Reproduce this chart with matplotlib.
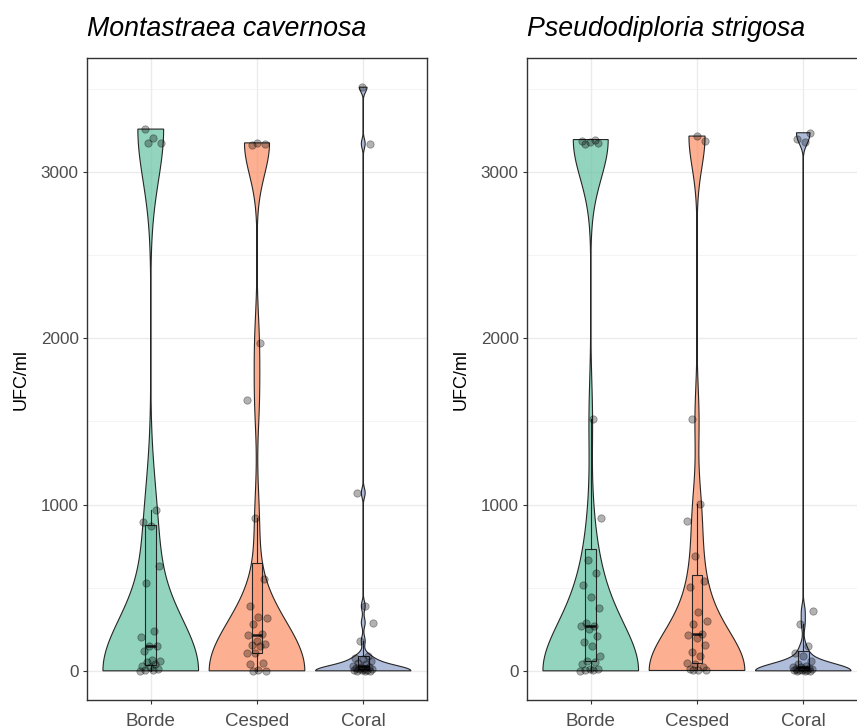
import numpy as np
import matplotlib
matplotlib.use('Agg')
import matplotlib.pyplot as plt
from matplotlib.ticker import FixedLocator

plt.rcParams['font.family'] = ['Liberation Sans', 'DejaVu Sans']

# values (UFC/ml)
categories = ['Borde', 'Cesped', 'Coral']
colors = ['#66C2A5', '#FC8D62', '#8DA0CB']

# Montastraea cavernosa
mc_borde = [0, 2, 5, 12, 20, 28, 40, 52, 60, 68, 118, 148, 152, 202, 242, 528, 628, 872,
            898, 968, 3172, 3176, 3202, 3258]
mc_cesped = [0, 0, 5, 40, 50, 105, 110, 150, 155, 160, 180, 215, 220, 280, 320, 325, 390, 555,
             920, 1630, 1970, 3160, 3170, 3175]
mc_coral = [0, 0, 0, 2, 5, 5, 8, 10, 12, 15, 20, 25, 30, 40, 50, 60, 70, 80, 90,
            180, 290, 390, 1070, 3170, 3510]

# Pseudodiploria strigosa
ps_borde = [0, 2, 2, 8, 12, 40, 52, 60, 92, 148, 172, 212, 250, 272, 272, 290, 378, 442, 518,
            586, 666, 922, 1512, 3170, 3175, 3180, 3185, 3195]
ps_cesped = [2, 2, 2, 12, 22, 42, 50, 92, 112, 156, 198, 218, 224, 282, 298, 352, 506, 540,
             692, 902, 1002, 1512, 3188, 3216]
ps_coral = [0, 0, 0, 2, 2, 5, 5, 8, 10, 12, 15, 20, 25, 30, 40, 60, 92, 110, 148,
            282, 362, 3182, 3196, 3236]

panels = [
    ('Montastraea cavernosa', [mc_borde, mc_cesped, mc_coral]),
    ('Pseudodiploria strigosa', [ps_borde, ps_cesped, ps_coral]),
]


def bw_nrd0(x):
    # same rule as R's density() default
    x = np.asarray(x, float)
    hi = np.std(x, ddof=1)
    q75, q25 = np.percentile(x, [75, 25])
    lo = min(hi, (q75 - q25) / 1.34)
    if lo == 0:
        lo = hi if hi else 1.0
    return 0.9 * lo * len(x) ** -0.2


def kde(x, grid):
    # gaussian kde, reflected at both ends of the data range
    x = np.asarray(x, float)
    bw = bw_nrd0(x)
    pts = np.concatenate([x, 2 * x.min() - x, 2 * x.max() - x])
    z = (grid[:, None] - pts[None, :]) / bw
    return np.exp(-0.5 * z ** 2).sum(axis=1)


def draw_panel(ax, title, groups):
    for i, (vals, col) in enumerate(zip(groups, colors)):
        pos = i + 1
        vals = np.asarray(vals, float)
        ys = np.linspace(vals.min(), vals.max(), 512)
        dens = kde(vals, ys)
        w = dens / dens.max() * 0.45
        xs = np.concatenate([pos + w, (pos - w)[::-1]])
        yy = np.concatenate([ys, ys[::-1]])
        ax.fill(xs, yy, facecolor=col, alpha=0.7, edgecolor='none', zorder=2)
        ax.fill(xs, yy, facecolor='none', edgecolor='#262626', lw=0.8, zorder=2.1)

        bp = ax.boxplot([vals], positions=[pos], widths=0.1, patch_artist=True,
                        showcaps=False, showfliers=False, whis=1.5, zorder=3)
        for b in bp['boxes']:
            b.set_facecolor(matplotlib.colors.to_rgba(col, 0.5))
            b.set_edgecolor('#262626')
            b.set_linewidth(0.8)
        for wl in bp['whiskers']:
            wl.set_color('#262626')
            wl.set_linewidth(0.8)
        for m in bp['medians']:
            m.set_color('#1a1a1a')
            m.set_linewidth(1.8)

        # horizontal jitter of the points (golden ratio sequence)
        k = np.arange(len(vals))
        jit = ((k * 0.618034 + 0.3 * i) % 1.0 - 0.5) * 0.2
        ax.scatter(pos + jit, vals, s=28, facecolor=(0, 0, 0, 0.3),
                   edgecolor=(0, 0, 0, 0.35), linewidth=0.6, zorder=4)

    ax.set_xlim(0.4, 3.6)
    ax.set_ylim(-175.5, 3685.5)
    ax.set_xticks([1, 2, 3])
    ax.set_xticklabels(categories)
    ax.set_yticks([0, 1000, 2000, 3000])
    ax.yaxis.set_minor_locator(FixedLocator([500, 1500, 2500, 3500]))
    ax.grid(True, which='major', color='#EBEBEB', lw=1.0, zorder=0)
    ax.grid(True, which='minor', axis='y', color='#F2F2F2', lw=0.6, zorder=0)
    ax.set_axisbelow(True)
    ax.tick_params(axis='both', which='major', length=3, width=0.8, color='#333333',
                   labelcolor='#4D4D4D')
    ax.tick_params(axis='y', which='major', labelsize=12.3, pad=3)
    ax.tick_params(axis='x', which='major', labelsize=13.5, pad=6)
    ax.tick_params(axis='y', which='minor', length=0)
    for sp in ax.spines.values():
        sp.set_color('#333333')
        sp.set_linewidth(1.0)
    ax.set_ylabel('UFC/ml', fontsize=13, color='black', labelpad=8)
    ax.set_title(title, loc='left', fontsize=19.3, style='italic', pad=16)


fig = plt.figure(figsize=(8.57, 7.27), dpi=100)
ax1 = fig.add_axes([87 / 857, 27 / 727, 340 / 857, 642 / 727])
ax2 = fig.add_axes([527 / 857, 27 / 727, 340 / 857, 642 / 727])

for ax, (title, groups) in zip([ax1, ax2], panels):
    draw_panel(ax, title, groups)

fig.savefig('out.png', dpi=100)
